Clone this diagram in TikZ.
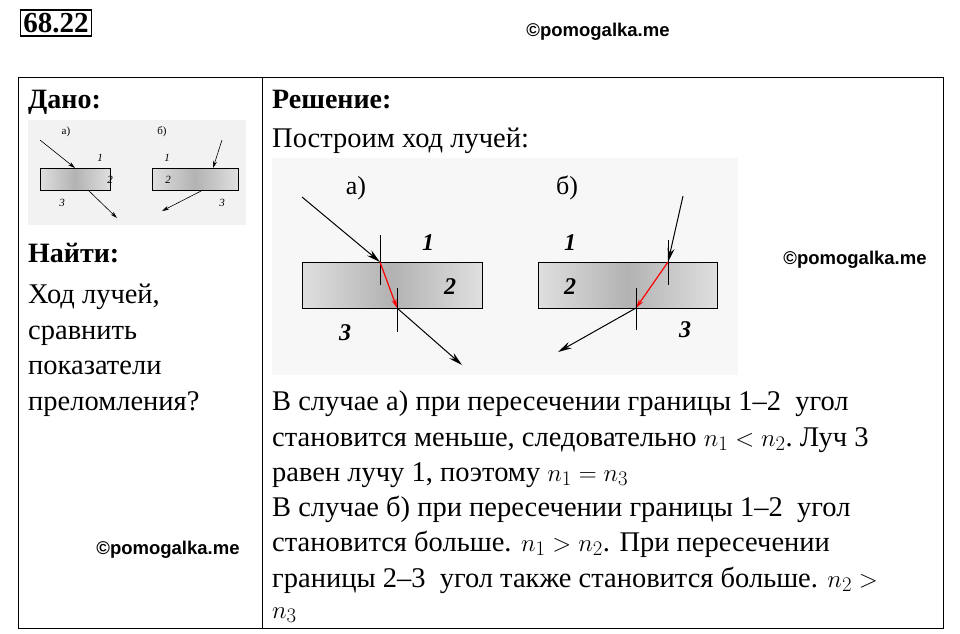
\documentclass[tikz,border=0pt]{standalone}
\usepackage{fontspec}
\setmainfont{Liberation Serif}
\newfontfamily\wmfont{Liberation Sans}
\usetikzlibrary{arrows.meta}
\tikzset{
  txt/.style={anchor=base west, inner sep=0pt, font=\fontsize{28.5}{32}\selectfont},
  hdr/.style={txt, font=\fontsize{28}{32}\selectfont\bfseries},
  wm/.style={inner sep=0pt, font=\wmfont\fontsize{18.5}{20}\selectfont\bfseries},
  lab/.style={inner sep=0pt, font=\fontsize{24}{26}\selectfont\bfseries\itshape},
  slab/.style={inner sep=0pt, font=\fontsize{11}{12}\selectfont\itshape},
  ray/.style={line width=1pt, -{Stealth[length=14pt,width=7pt]}},
  sray/.style={line width=0.6pt, -{Stealth[length=7pt,width=4pt]}},
  red ray/.style={line width=1.2pt, red, -{Stealth[length=9pt,width=5pt]}},
  normal/.style={line width=0.5pt},
  plate/.style={draw, line width=1pt, left color=gray!25, right color=gray!25, middle color=gray!60}
}
\begin{document}
\begin{tikzpicture}[x=1pt,y=-1pt]
  \useasboundingbox (0,0) rectangle (960,633);
  % Titel und Rahmen
  \node[draw, line width=1.5pt, inner sep=3pt, font=\fontsize{29}{32}\selectfont\bfseries] (num) at (56,23) {68.22};
  \node[wm] (wm1) at (598,32) {©pomogalka.me};
  \draw[line width=1pt] (18,77) rectangle (943,628);
  \draw[line width=1pt] (262,77) -- (262,628);

  % Links
  \node[hdr] (dano) at (28,108) {Дано:};
  \fill[gray!10] (28,120) rectangle (246,225);
  \draw[plate, line width=0.6pt] (40,168) rectangle (110,190);
  \draw[plate, line width=0.6pt] (152,168) rectangle (238,190);
  \coordinate (sa1) at (40,140); \coordinate (sa2) at (75,168);
  \coordinate (sa3) at (88,190); \coordinate (sa4) at (117,218);
  \coordinate (sb1) at (222,140); \coordinate (sb2) at (213,168);
  \coordinate (sb3) at (203,190); \coordinate (sb4) at (162,211);
  \draw[sray] (sa1) -- (sa2);
  \draw[sray] (sa3) -- (sa4);
  \draw[sray] (sb1) -- (sb2);
  \draw[sray] (sb3) -- (sb4);
  \node[slab, font=\fontsize{11}{12}\selectfont] (sla) at (66,132) {а)};
  \node[slab] (sl1) at (100,158) {1};
  \node[slab] (sl2) at (110,180) {2};
  \node[slab] (sl3) at (62,203) {3};
  \node[slab, font=\fontsize{11}{12}\selectfont] (slb) at (162,132) {б)};
  \node[slab] (slb1) at (167,158) {1};
  \node[slab] (slb2) at (168,180) {2};
  \node[slab] (slb3) at (222,203) {3};
  \node[hdr] (najti) at (28,262) {Найти:};
  \foreach \t [count=\i] in {{Ход лучей,}, сравнить, показатели, преломления?} {
    \node[txt] (q\i) at (28,268+35.5*\i) {\t};
  }
  \node[wm] (wm2) at (168,550) {©pomogalka.me};

  % Rechts
  \node[hdr] (resh) at (272,108) {Решение:};
  \node[txt] (post) at (272,147) {Построим ход лучей:};
  \fill[gray!6] (272,158) rectangle (738,375);
  \draw[plate] (302,262) rectangle (482,308);
  \draw[plate] (538,262) rectangle (717,308);
  % a)
  \coordinate (a1) at (302,197); \coordinate (a2) at (380,262);
  \coordinate (a3) at (397,308); \coordinate (a4) at (462,365);
  \draw[ray] (a1) -- (a2);
  \draw[normal] (380,235) -- (380,285);
  \draw[red ray] (a2) -- (a3);
  \draw[normal] (397,288) -- (397,332);
  \draw[ray] (a3) -- (a4);
  \node[inner sep=0pt, font=\fontsize{26}{28}\selectfont] (la) at (356,188) {а)};
  \node[lab] (l1) at (428,243) {1};
  \node[lab] (l2) at (450,287) {2};
  \node[lab] (l3) at (345,333) {3};
  % b)
  \coordinate (b1) at (683,196); \coordinate (b2) at (668,262);
  \coordinate (b3) at (636,308); \coordinate (b4) at (558,352);
  \draw[ray] (b1) -- (b2);
  \draw[normal] (668,240) -- (668,285);
  \draw[red ray] (b2) -- (b3);
  \draw[normal] (636,288) -- (636,330);
  \draw[ray] (b3) -- (b4);
  \node[inner sep=0pt, font=\fontsize{26}{28}\selectfont] (lb) at (567,188) {б)};
  \node[lab] (lb1) at (570,243) {1};
  \node[lab] (lb2) at (570,287) {2};
  \node[lab] (lb3) at (685,330) {3};
  \node[wm] (wm3) at (855,260) {©pomogalka.me};

  \node[txt] (s1) at (272,410) {В случае а) при пересечении границы 1–2\ \ угол};
  \node[txt] (s2) at (272,446) {становится меньше, следовательно $n_1<n_2$.\ Луч 3};
  \node[txt] (s3) at (272,481) {равен лучу 1, поэтому $n_1=n_3$};
  \node[txt] (s4) at (272,516) {В случае б) при пересечении границы 1–2\ \ угол};
  \node[txt] (s5) at (272,551) {становится больше. $n_1>n_2$. При пересечении};
  \node[txt] (s6) at (272,587) {границы 2–3\ \ угол также становится больше. $n_2>$};
  \node[txt] (s7) at (272,618) {$n_3$};
\end{tikzpicture}
\end{document}
